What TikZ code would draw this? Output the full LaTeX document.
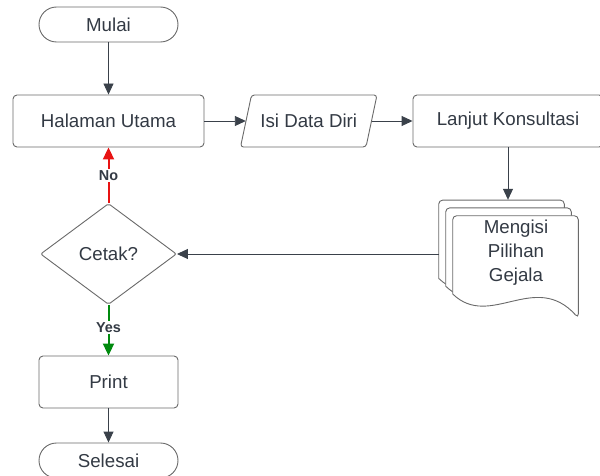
\documentclass[tikz,border=0pt]{standalone}
\usepackage{fontspec}
\setmainfont{Liberation Sans}
\usetikzlibrary{shapes.geometric,arrows.meta,calc}
\definecolor{edge}{HTML}{6A6A6A}
\definecolor{wire}{HTML}{3A414A}
\definecolor{ink}{HTML}{333A44}
\definecolor{noRed}{HTML}{E81313}
\definecolor{yesGreen}{HTML}{008A0E}
\tikzset{
  base/.style={draw=edge, line width=0.9pt, fill=white, text=ink, inner sep=0pt,
    font=\fontsize{18.7}{24}\selectfont, align=center},
  terminal/.style={base, rounded corners=17.5pt, minimum width=139pt, minimum height=35pt},
  process/.style={base, rounded corners=4pt, minimum height=52pt},
  decision/.style={base, diamond, rounded corners=2pt, minimum width=136pt, minimum height=101pt},
  ghost/.style={inner sep=0pt, text=ink, font=\fontsize{18.7}{24}\selectfont, align=center},
  flow/.style={draw=wire, line width=0.9pt, -{Triangle[length=11pt,width=10pt]}},
  branch/.style={line width=2pt, -{Triangle[length=12pt,width=11pt]}},
  tag/.style={fill=white, text=ink, inner sep=1.5pt, font=\fontsize{14.4}{16}\selectfont\bfseries},
  sheet/.style={draw=edge, line width=0.9pt, fill=white, rounded corners=4pt},
}
\begin{document}
\begin{tikzpicture}[x=1pt, y=-1pt]
\useasboundingbox (0,0) rectangle (600,476);

% main column
\node[terminal] (mulai) at (108.5,24.5) {Mulai};
\node[process, minimum width=191pt] (halaman) at (108.5,121) {Halaman Utama};
\node[decision] (cetak) at (108.5,254) {Cetak?};
\node[process, minimum width=139pt] (print) at (108.5,382) {Print};
\node[terminal] (selesai) at (108.5,460.5) {Selesai};

% input parallelogram
\draw[sheet, rounded corners=3pt] (251.5,95) -- (377,95) -- (366,147) -- (240.5,147) -- cycle;
\node[ghost, minimum width=125.5pt, minimum height=52pt] (isi) at (308.75,121) {Isi Data Diri};

% consultation step (runs past the right edge)
\node[process, minimum width=190pt] (lanjut) at (508,121) {Lanjut Konsultasi};

% stacked documents
\foreach \dx/\dy in {-14/-15.6, -7/-7.8, 0/0} {
  \draw[sheet, shift={(\dx,\dy)}]
    (452.7,294) -- (452.7,215.7) -- (578.3,215.7) -- (578.3,318)
    [sharp corners] .. controls (535,270) and (490,330) .. (452.7,294) -- cycle;
}
\node[inner sep=0pt, minimum width=126pt, minimum height=80pt] (docback) at (502,240) {};
\node[ghost] (gejala) at (516,253) {Mengisi\\Pilihan\\Gejala};

% connectors
\draw[flow] (mulai) -- (halaman);
\draw[flow] (halaman.east) -- (isi.west);
\draw[flow] (isi.east) -- (lanjut.west);
\draw[flow] (lanjut.south) -- (lanjut.south |- docback.north);
\draw[flow] (docback.west |- cetak.east) -- (cetak.east);
\draw[branch, draw=noRed, color=noRed] (cetak.north) -- node[tag, pos=0.5] {No} (halaman.south);
\draw[branch, draw=yesGreen, color=yesGreen] (cetak.south) -- node[tag, pos=0.45] {Yes} (print.north);
\draw[flow] (print) -- (selesai);
\end{tikzpicture}
\end{document}
